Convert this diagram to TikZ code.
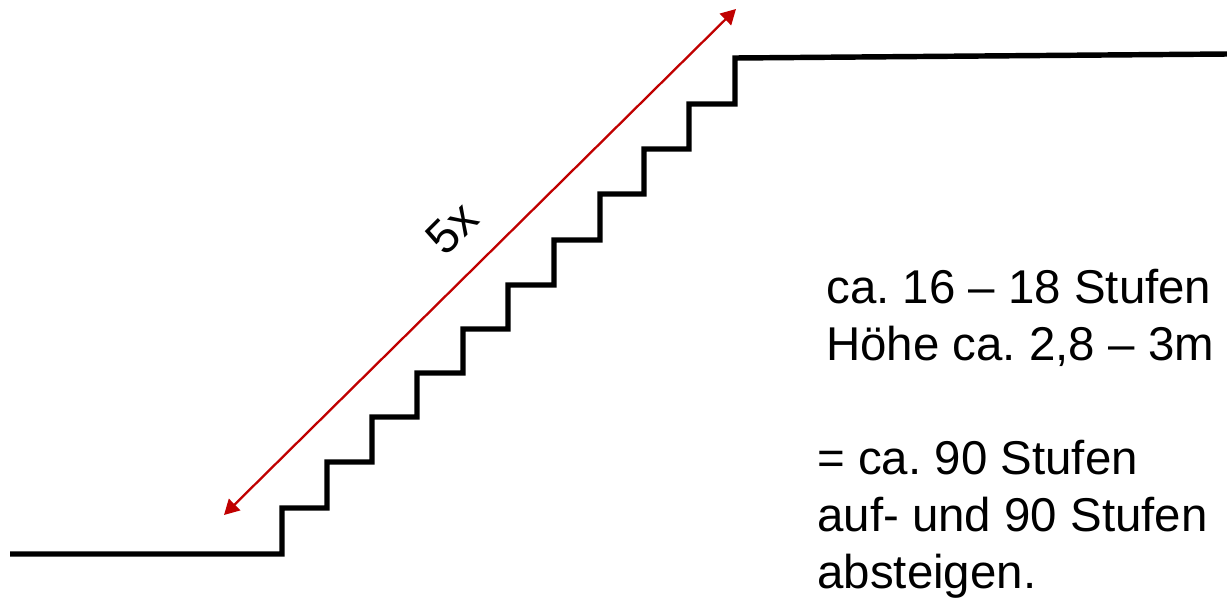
\documentclass[tikz,border=0pt]{standalone}
\usepackage{fontspec}
\setmainfont{Liberation Sans}
\usetikzlibrary{arrows.meta}
\definecolor{dimred}{RGB}{192,0,0}
\frenchspacing
\begin{document}
\begin{tikzpicture}[x=0.02cm, y=-0.02cm,
  stairline/.style={line width=3.1pt, line join=miter},
  dimarrow/.style={color=dimred, line width=1.3pt, {Triangle[length=0.3cm,width=0.32cm]}-{Triangle[length=0.3cm,width=0.32cm]}},
  infotext/.style={font=\fontsize{27pt}{32.4pt}\selectfont, align=left, inner sep=0pt, anchor=base west}]
\useasboundingbox (0,0) rectangle (1227,599);
% the stairs
\draw[stairline] (10,554) -- (282,554) -- (282,508) -- (327,508) -- (327,462)
  -- (372,462) -- (372,417) -- (417,417) -- (417,373) -- (463,373) -- (463,329)
  -- (508,329) -- (508,285) -- (554,285) -- (554,240) -- (600,240) -- (600,194)
  -- (644,194) -- (644,149) -- (689,149) -- (689,104) -- (735,104) -- (735,58)
  -- (1227,54);
% the length
\coordinate (low) at (224,515);
\coordinate (high) at (736,9);
\draw[dimarrow] (low) -- (high);
\node[font=\fontsize{27pt}{32.4pt}\selectfont, rotate=45, inner sep=0pt] (times) at (452,228) {5x};
% the numbers (base is the last line)
\node[infotext] (steps) at (826,360) {ca. 16 – 18 Stufen\\Höhe ca. 2,8 – 3m};
\node[infotext] (total) at (817,588) {= ca. 90 Stufen\\auf- und 90 Stufen\\absteigen.};
\end{tikzpicture}
\end{document}
